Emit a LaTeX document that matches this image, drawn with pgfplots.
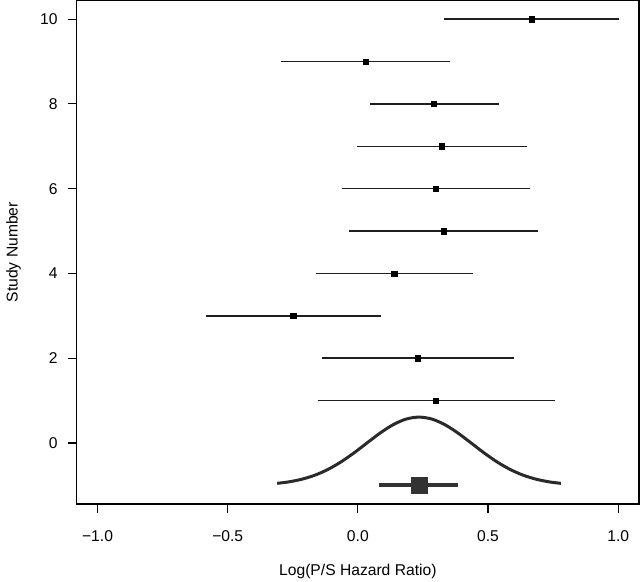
\documentclass[border=0pt]{standalone}
\usepackage{fontspec}
\setmainfont{Liberation Sans}
\usepackage{pgfplots}
\usepackage{pgfplotstable}
\pgfplotsset{compat=1.18}
\definecolor{curvec}{HTML}{2A2A2A}
\definecolor{summc}{HTML}{333333}
\pgfplotstableread{
study est ep em
1 0.300 0.456 0.455
2 0.231 0.370 0.369
3 -0.249 0.338 0.335
4 0.139 0.302 0.300
5 0.330 0.363 0.365
6 0.300 0.362 0.361
7 0.321 0.328 0.324
8 0.292 0.249 0.246
9 0.029 0.325 0.323
10 0.667 0.338 0.337
}\studies
\begin{document}
\begin{tikzpicture}
\useasboundingbox (0,0) rectangle (640bp,582bp);
\begin{axis}[
  at={(76.7bp,78bp)}, anchor=south west,
  scale only axis, width=562.3bp, height=503.5bp,
  xmin=-1.08, xmax=1.08, ymin=-1.44, ymax=10.44,
  font=\fontsize{15.7}{18}\selectfont,
  /pgf/number format/assume math mode=true,
  xtick={-1,-0.5,0,0.5,1},
  xticklabels={−1.0,−0.5,0.0,0.5,1.0},
  ytick={0,2,4,6,8,10},
  yticklabels={0,2,4,6,8,10},
  tick pos=left, tick align=outside,
  major tick length=9bp,
  axis line style={line width=1.1bp},
  every tick/.style={line width=1.1bp, black},
  xticklabel style={anchor=north, inner sep=0pt, yshift=-17bp},
  yticklabel style={anchor=east, inner sep=0pt, xshift=-10bp},
  xlabel={Log(P/S Hazard Ratio)},
  ylabel={Study Number},
  xlabel style={at={([yshift=-67bp]axis description cs:0.5,0)}, anchor=center},
  ylabel style={at={([xshift=-63bp]axis description cs:0,0.5)}, anchor=center},
  clip=false,
]
\addplot[only marks, mark=square*, mark size=2.7bp, black,
  error bars/.cd, x dir=both, x explicit, error mark=none,
  error bar style={line width=1.5bp, color=black!88}]
  table[x=est, y=study, x error plus=ep, x error minus=em] {\studies};
\addplot[smooth, line width=3bp, color=curvec] coordinates {
(-0.310,-0.953) (-0.265,-0.918) (-0.215,-0.855) (-0.165,-0.760)
(-0.115,-0.625) (-0.065,-0.448) (-0.015,-0.235) (0.035,0.000)
(0.085,0.232) (0.135,0.429) (0.185,0.563) (0.235,0.610)
(0.285,0.563) (0.335,0.429) (0.385,0.232) (0.435,0.000)
(0.485,-0.235) (0.535,-0.448) (0.585,-0.625) (0.635,-0.760)
(0.685,-0.855) (0.735,-0.918) (0.780,-0.953)
};
\addplot[line width=4bp, color=summc] coordinates {(0.082,-1) (0.383,-1)};
\addplot[only marks, mark=square*, mark size=7.7bp, color=summc] coordinates {(0.235,-1)};
\end{axis}
\end{tikzpicture}
\end{document}
